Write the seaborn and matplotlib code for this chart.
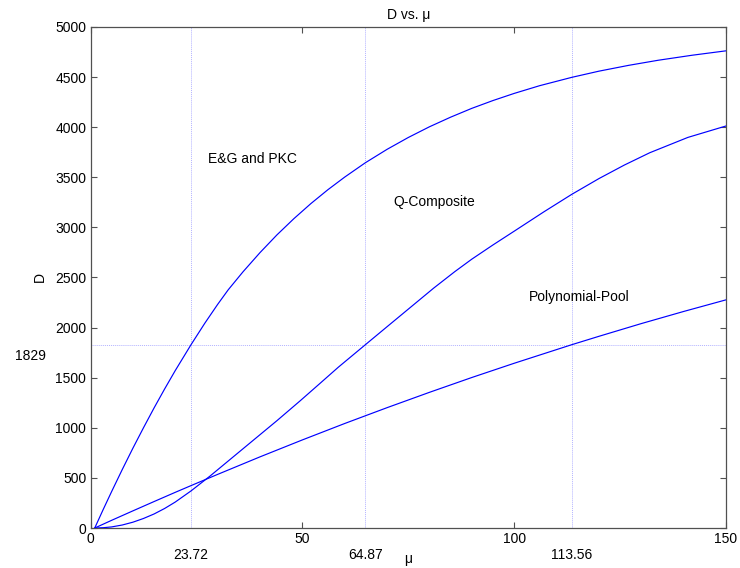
import matplotlib
matplotlib.use("Agg")
import matplotlib.pyplot as plt
import matplotlib.transforms as mtransforms
import pandas as pd
import seaborn as sns

# D as a function of mu for the three schemes
mu_eg = [1, 3, 5, 7.5, 10, 12.5, 15, 17.5, 20, 23.72, 27, 30, 32.5, 36, 40, 44, 48,
         52, 56, 60, 64.87, 70, 75, 80, 85, 90, 95, 100, 106, 113.56, 120, 127,
         134, 142, 150]
d_eg = [0, 185, 365, 584, 796, 1000, 1198, 1388, 1571, 1829, 2045, 2231, 2377, 2557,
        2748, 2925, 3087, 3237, 3375, 3502, 3645, 3779, 3897, 4004, 4100, 4188,
        4266, 4337, 4414, 4497, 4559, 4617, 4668, 4718, 4762]

mu_q = [1, 3, 5, 7.5, 10, 12.5, 15, 17.5, 20, 23.72, 28.2, 32, 36, 40, 44, 49.5,
        54, 58.5, 64.87, 70, 75, 81, 86, 90, 95, 100, 107, 113.56, 120, 126, 132,
        141, 150]
d_q = [0, 3, 11, 30, 58, 95, 140, 195, 259, 370, 518, 651, 791, 931, 1071, 1270,
       1437, 1605, 1829, 2009, 2184, 2394, 2559, 2683, 2825, 2962, 3155, 3329,
       3487, 3622, 3745, 3898, 4012]

mu_pp = [1, 5, 10, 15, 20, 23.72, 30, 40, 50, 60, 64.87, 70, 80, 90, 100, 113.56,
         120, 130, 140, 150]
d_pp = [0, 77, 171, 264, 356, 423, 535, 710, 879, 1043, 1120, 1201, 1354, 1502,
        1644, 1829, 1913, 2040, 2161, 2277]

# reference level and the mu values where each curve reaches it
d_level = 1829
mu_marks = [23.72, 64.87, 113.56]
mu_mark_labels = ["23.72", "64.87", "113.56"]

x_ticks = [0, 50, 100, 150]
y_ticks = list(range(0, 5001, 500))

curve_names = ["E&G and PKC", "Q-Composite", "Polynomial-Pool"]
curve_label_pos = [(27.8, 3680), (71.5, 3250), (103.4, 2310)]

sns.set_style("ticks")
plt.rcParams["font.family"] = ["Liberation Sans", "DejaVu Sans"]
plt.rcParams["font.size"] = 10
plt.rcParams["text.color"] = "black"
plt.rcParams["axes.labelcolor"] = "black"

df = pd.concat([
    pd.DataFrame({"mu": mu_eg, "D": d_eg, "scheme": curve_names[0]}),
    pd.DataFrame({"mu": mu_q, "D": d_q, "scheme": curve_names[1]}),
    pd.DataFrame({"mu": mu_pp, "D": d_pp, "scheme": curve_names[2]}),
], ignore_index=True)

fig = plt.figure(figsize=(7.4, 5.68), dpi=100)
ax = fig.add_axes([0.1223, 0.0704, 0.8588, 0.8821])

guide_color = (0.70, 0.70, 1.0)
guide_style = (0, (1, 1))
for m in mu_marks:
    ax.axvline(m, color=guide_color, linestyle=guide_style, linewidth=0.7, zorder=1)
ax.axhline(d_level, color=guide_color, linestyle=guide_style, linewidth=0.7, zorder=1)

for name in curve_names:
    sns.lineplot(data=df[df["scheme"] == name], x="mu", y="D", ax=ax,
                 color=(0.0, 0.0, 1.0), linewidth=0.85, sort=False,
                 estimator=None, legend=False, zorder=3)

ax.set_xlim(0, 150)
ax.set_ylim(0, 5000)
ax.set_xticks(x_ticks)
ax.set_xticklabels([str(v) for v in x_ticks])
ax.set_yticks(y_ticks)
ax.set_yticklabels([str(v) for v in y_ticks])
ax.tick_params(axis="both", which="both", direction="in", length=4.5, width=0.8,
               color="#505050", labelcolor="black", labelsize=10,
               top=True, right=True)
ax.tick_params(axis="x", pad=3)
ax.tick_params(axis="y", pad=3)
for s in ax.spines.values():
    s.set_visible(True)
    s.set_color("#505050")
    s.set_linewidth(0.9)

# labels for the mu values at the reference level, set below the main ticks
trans_x = mtransforms.blended_transform_factory(ax.transData, ax.transAxes)
for m, lab in zip(mu_marks, mu_mark_labels):
    ax.text(m, -0.040, lab, transform=trans_x, ha="center", va="top", fontsize=10)

trans_y = mtransforms.blended_transform_factory(ax.transAxes, ax.transData)
ax.annotate(str(d_level), xy=(-0.094, d_level), xycoords=trans_y,
            xytext=(0, -3), textcoords="offset points",
            ha="center", va="top", fontsize=10)

for name, (px, py) in zip(curve_names, curve_label_pos):
    ax.text(px, py, name, ha="left", va="center", fontsize=10)

ax.set_xlabel("\u03bc", fontsize=10)
ax.xaxis.set_label_coords(0.5, -0.048)
ax.xaxis.label.set_va("top")
ax.set_ylabel("D", fontsize=10)
ax.yaxis.set_label_coords(-0.068, 0.5)
ax.set_title("D vs. \u03bc", fontsize=10, pad=6)

fig.savefig("out.png", dpi=100)
